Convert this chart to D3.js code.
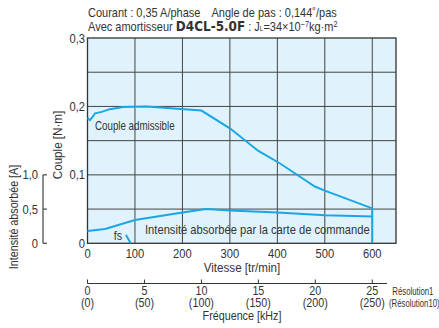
<!DOCTYPE html>
<html>
<meta charset="utf-8">
<title>D4CL-5.0F</title>
<script src="https://d3js.org/d3.v7.min.js" charset="utf-8"></script>
<style>
	body { margin: 0; background: #fff; }
	svg text { font-family: "Liberation Sans", Arial, sans-serif; fill: #333; }
	.grid line { stroke: #444; stroke-width: 1; }
	.curve { fill: none; stroke: #1aa6e6; stroke-width: 2; }
</style>
<body>
<script>

	// vitesse [tr/min] / couple [N·m]
	var speedTorque = [0, 5, 10, 16, 30, 47, 75, 125, 240, 300, 360, 405, 455, 479, 500, 600, 600];
	var torque = [0.183, 0.180, 0.184, 0.190, 0.192, 0.196, 0.199, 0.200, 0.194, 0.168, 0.135, 0.117, 0.094, 0.083, 0.077, 0.051, 0];
	// intensité absorbée [A]
	var speedCurrent = [0, 37, 100, 200, 250, 300, 400, 500, 600];
	var current = [0.18, 0.21, 0.34, 0.45, 0.50, 0.48, 0.45, 0.41, 0.39];
	// segment fs
	var speedFs = [81, 91];
	var torqueFs = [0.0122, 0];

	var speedTicks = [0, 100, 200, 300, 400, 500, 600];
	var torqueTicks = [0, 0.1, 0.2, 0.3];
	var torqueGrid = [0.05, 0.1, 0.15, 0.2, 0.25];
	var currentTicks = [0, 0.5, 1.0];
	var freqTicks = [0, 5, 10, 15, 20, 25];
	var freqTicks10 = ["(0)", "(50)", "(100)", "(150)", "(200)", "(250)"];

	var fmt = function(v) { return (v === 0 ? "0" : d3.format(".1f")(v)).replace(".", ","); };

	var W = 439, H = 328, SX = 0.86;
	var x = d3.scaleLinear().domain([0, 650]).range([87.5, 396]);
	var y = d3.scaleLinear().domain([0, 0.3]).range([243.3, 38]);
	var yI = d3.scaleLinear().domain([0, 1]).range([y(0), y(0.1)]);
	var xF = d3.scaleLinear().domain([0, 25]).range([x(0), x(600)]);

	var svg = d3.select("body").append("svg")
		.attr("width", W)
		.attr("height", H);

	// texte étroit (police condensée simulée)
	function label(parent, px, py, str, size, anchor, rot, sx) {
		return parent.append("text")
			.attr("transform", "translate(" + px + "," + py + ")" + (rot ? "rotate(-90)" : "") + "scale(" + (sx || SX) + ",1)")
			.attr("text-anchor", anchor || "start")
			.style("font-size", (size || 12) + "px")
			.text(str);
	}

	// titre
	label(svg, 88, 17, "Courant : 0,35 A/phase\u2003Angle de pas : 0,144˚/pas", 12.8);

	var t2 = label(svg, 88, 31, null, 12.8);
	t2.append("tspan").text("Avec amortisseur ");
	t2.append("tspan").text("D4CL-5.0F")
		.style("font-family", "'DejaVu Sans', sans-serif")
		.style("font-weight", "bold")
		.style("font-size", "14px");
	t2.append("tspan").text(" : J");
	t2.append("tspan").text("L").style("font-size", "7.5px");
	t2.append("tspan").text("=34×10");
	t2.append("tspan").text("−7").attr("dy", -4.5).style("font-size", "8.5px");
	t2.append("tspan").text("kg·m").attr("dy", 4.5);
	t2.append("tspan").text("2").attr("dy", -4.5).style("font-size", "8.5px");

	// zone de tracé
	svg.append("rect")
		.attr("x", x(0)).attr("y", y(0.3))
		.attr("width", x(650) - x(0))
		.attr("height", y(0) - y(0.3))
		.attr("fill", "#e0f3fc");

	var grid = svg.append("g").attr("class", "grid");
	grid.selectAll(".v").data(speedTicks.slice(1))
		.enter().append("line")
		.attr("x1", d => x(d)).attr("x2", d => x(d))
		.attr("y1", y(0.3)).attr("y2", y(0));
	grid.selectAll(".h").data(torqueGrid)
		.enter().append("line")
		.attr("x1", x(0)).attr("x2", x(650))
		.attr("y1", d => y(d)).attr("y2", d => y(d));

	svg.append("rect")
		.attr("x", x(0)).attr("y", y(0.3))
		.attr("width", x(650) - x(0))
		.attr("height", y(0) - y(0.3))
		.attr("fill", "none")
		.attr("stroke", "#333")
		.attr("stroke-width", 1.3);

	// courbes
	var line = d3.line().x(d => x(d[0])).y(d => y(d[1]));
	svg.append("path")
		.attr("class", "curve")
		.attr("d", line(d3.zip(speedTorque, torque)));
	svg.append("path")
		.attr("class", "curve")
		.attr("d", d3.line().x(d => x(d[0])).y(d => yI(d[1]))(d3.zip(speedCurrent, current)));
	svg.append("path")
		.attr("class", "curve")
		.attr("d", line(d3.zip(speedFs, torqueFs)));

	label(svg, 95, 130, "Couple admissible", 12.2, "start", false, 0.8);
	label(svg, 145, 234, "Intensité absorbée par la carte de commande", 13);
	label(svg, 118, 240, "fs", 12.5, "middle");

	// axe couple
	torqueTicks.forEach(function(d) { label(svg, 85, y(d) + 4.5, fmt(d), 13, "end"); });
	label(svg, 62, 145, "Couple [N·m]", 13.5, "middle", true);

	// axe intensité
	var axI = svg.append("g").attr("transform", "translate(43,0)");
	axI.append("line")
		.attr("y1", yI(0)).attr("y2", yI(1))
		.attr("stroke", "#444").attr("stroke-width", 1.2);
	axI.selectAll(".tk").data(currentTicks)
		.enter().append("line")
		.attr("x2", 4).attr("y1", d => yI(d)).attr("y2", d => yI(d))
		.attr("stroke", "#444").attr("stroke-width", 1.2);
	currentTicks.forEach(function(d) { label(axI, -5, yI(d) + 4.5, fmt(d), 13, "end"); });
	label(svg, 18, 217, "Intensité absorbée [A]", 12.5, "middle", true);

	// axe vitesse
	speedTicks.forEach(function(d) { label(svg, x(d), 257.5, d, 13, "middle"); });
	label(svg, 242, 272, "Vitesse [tr/min]", 13.5, "middle");

	// axe fréquence
	var axF = svg.append("g").attr("transform", "translate(0,283.5)");
	axF.append("line")
		.attr("x1", xF(0)).attr("x2", xF(26.3))
		.attr("stroke", "#333").attr("stroke-width", 1.2);
	axF.selectAll(".tk").data(freqTicks)
		.enter().append("line")
		.attr("x1", d => xF(d)).attr("x2", d => xF(d))
		.attr("y1", -4).attr("y2", 0)
		.attr("stroke", "#333").attr("stroke-width", 1);
	freqTicks.forEach(function(d, i) {
		label(axF, xF(d), 11.5, d, 12.5, "middle");
		label(axF, xF(d), 23.5, freqTicks10[i], 12.5, "middle");
	});
	label(axF, 392.3, 11.5, "Résolution1", 10, "start", false, 0.78);
	label(axF, 389, 23.5, "(Résolution10)", 10, "start", false, 0.78);
	label(svg, 242, 320, "Fréquence [kHz]", 12.5, "middle");

</script>
</body>
</html>
